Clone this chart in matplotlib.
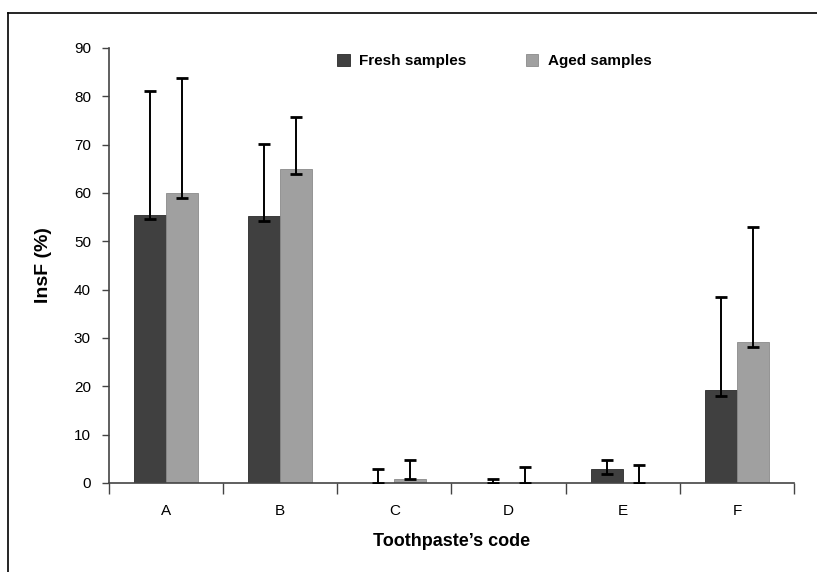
import matplotlib
matplotlib.use("Agg")
import matplotlib.pyplot as plt
import numpy as np
from matplotlib.lines import Line2D

categories = ["A", "B", "C", "D", "E", "F"]
fresh = [55.5, 55.3, 0.0, 0.0, 2.8, 19.2]
aged = [59.9, 64.9, 0.8, 0.0, 0.0, 29.2]
fresh_upper = [81.2, 70.1, 3.0, 0.9, 4.8, 38.5]
aged_upper = [83.7, 75.8, 4.8, 3.4, 3.7, 53.0]
fresh_lower = [54.6, 54.3, 0.0, 0.0, 1.8, 18.0]
aged_lower = [58.9, 63.9, 0.8, 0.0, 0.0, 28.1]
yticks = [0, 10, 20, 30, 40, 50, 60, 70, 80, 90]

fig = plt.figure(figsize=(8.17, 5.72), dpi=100)
ax = fig.add_axes([109/817, 1-483/572, (794-109)/817, (483-48)/572])

x = np.arange(len(categories))
w = 0.28
c_fresh = "#404040"
c_aged = "#a0a0a0"
b1 = ax.bar(x - w/2, fresh, w, color=c_fresh, edgecolor="#2a2a2a", linewidth=0.6, label="Fresh samples", zorder=2)
b2 = ax.bar(x + w/2, aged, w, color=c_aged, edgecolor="#8a8a8a", linewidth=0.6, label="Aged samples", zorder=2)

def yerr(vals, lo, up):
    return [np.array(vals) - np.array(lo), np.array(up) - np.array(vals)]

ax.errorbar(x - w/2, fresh, yerr=yerr(fresh, fresh_lower, fresh_upper), fmt="none",
            ecolor="black", elinewidth=1.4, capsize=4, capthick=2, zorder=3)
ax.errorbar(x + w/2, aged, yerr=yerr(aged, aged_lower, aged_upper), fmt="none",
            ecolor="black", elinewidth=1.4, capsize=4, capthick=2, zorder=3)

ax.set_xlim(-0.5, len(categories) - 0.5)
ax.set_ylim(0, 90)
ax.set_yticks(yticks)
ax.set_yticklabels([str(v) for v in yticks], fontsize=11, family="Liberation Sans")
ax.set_xticks(np.arange(-0.5, len(categories), 1.0))
ax.set_xticklabels([])
ax.set_xticks(x, minor=True)
ax.set_xticklabels(categories, minor=True, fontsize=11, family="Liberation Sans")
ax.tick_params(axis="x", which="major", length=8, width=1, color="#444444", direction="out")
ax.tick_params(axis="x", which="minor", length=0, pad=15)
ax.tick_params(axis="y", length=5, width=1, color="#444444", pad=8)

for s in ["top", "right"]:
    ax.spines[s].set_visible(False)
for s in ["left", "bottom"]:
    ax.spines[s].set_color("#444444")
    ax.spines[s].set_linewidth(1.2)

ax.set_ylabel("InsF (%)", fontsize=14, fontweight="bold", family="Liberation Sans", labelpad=16)
ax.set_xlabel("Toothpaste\u2019s code", fontsize=13, fontweight="bold", family="Liberation Sans", labelpad=11)

leg = ax.legend(handles=[b1, b2], loc="center", bbox_to_anchor=(0.562, 0.970), ncol=2,
                frameon=False, prop={"family": "Liberation Sans", "weight": "bold", "size": 11},
                handlelength=0.85, handleheight=0.85, handletextpad=0.6, columnspacing=3.9)

# figure border (top and left edges visible in the reference crop)
fig.add_artist(Line2D([8/817, 8/817], [0, 1-13/572], transform=fig.transFigure, color="black", linewidth=1.2))
fig.add_artist(Line2D([8/817, 1], [1-13/572, 1-13/572], transform=fig.transFigure, color="black", linewidth=1.2))

fig.savefig("out.png", dpi=100)
